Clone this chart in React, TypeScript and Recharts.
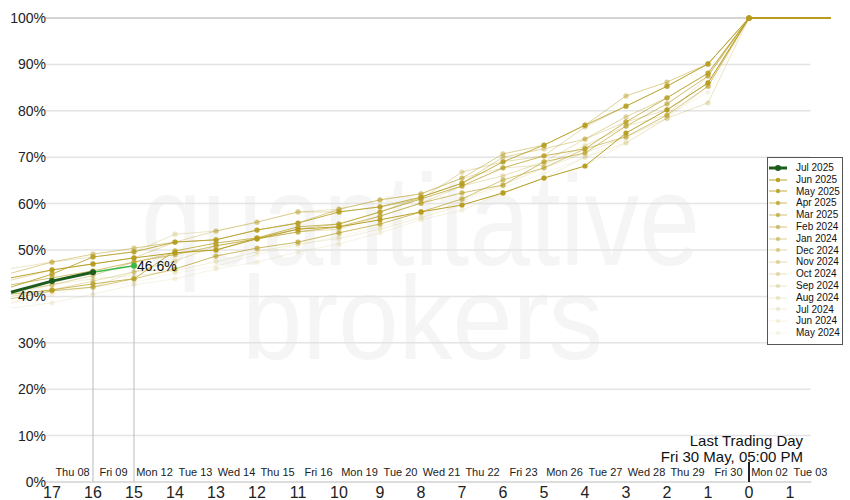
import { LineChart, Line, XAxis, YAxis, Legend, ReferenceLine, ReferenceDot } from "recharts";

const FONT = "'Liberation Sans', Arial, sans-serif";
const GOLD = "#b59c1f";
const DARK_GREEN = "#1d5c1d";
const LIVE_GREEN = "#3cb846";

// trading days before the last trading day (left to right), plus the two after it
const days = [18, 17, 16, 15, 14, 13, 12, 11, 10, 9, 8, 7, 6, 5, 4, 3, 2, 1, 0];
const afterDays = [-2];

const dayTicks = [17, 16, 15, 14, 13, 12, 11, 10, 9, 8, 7, 6, 5, 4, 3, 2, 1, 0, -1];
const dayLabels = [
  "Thu 08", "Fri 09", "Mon 12", "Tue 13", "Wed 14", "Thu 15", "Fri 16", "Mon 19", "Tue 20", "Wed 21",
  "Thu 22", "Fri 23", "Mon 26", "Tue 27", "Wed 28", "Thu 29", "Fri 30", "Mon 02", "Tue 03",
];
const yTicks = [0, 10, 20, 30, 40, 50, 60, 70, 80, 90, 100];

// cumulative % of the roll done, per past contract month (values for days 18..0)
const seriesNames = [
  "Jun 2025", "May 2025", "Apr 2025", "Mar 2025", "Feb 2024", "Jan 2024", "Dec 2024",
  "Nov 2024", "Oct 2024", "Sep 2024", "Aug 2024", "Jul 2024", "Jun 2024", "May 2024",
];
const seriesOpacity = [0.95, 0.82, 0.72, 0.64, 0.56, 0.48, 0.41, 0.35, 0.3, 0.25, 0.2, 0.16, 0.12, 0.09];

const jun2025 = [44.0, 45.7, 47.0, 48.3, 49.4, 50.0, 52.4, 54.5, 55.0, 56.5, 58.2, 59.7, 62.3, 65.5, 68.1, 75.2, 80.2, 86.0, 100];
const may2025 = [42.0, 44.8, 48.5, 49.6, 51.7, 52.2, 54.3, 55.8, 58.2, 59.3, 61.4, 64.4, 69.0, 72.6, 76.9, 81.0, 85.3, 90.1, 100];
const apr2025 = [40.5, 41.4, 42.7, 43.8, 49.8, 51.5, 52.6, 55.0, 55.6, 58.2, 61.0, 63.8, 67.7, 70.3, 71.8, 77.6, 82.8, 88.1, 100];
const mar2025 = [42.5, 44.0, 45.5, 47.4, 49.0, 50.9, 52.4, 53.9, 55.0, 57.3, 60.1, 62.3, 64.0, 69.0, 70.9, 76.7, 81.5, 87.5, 100];
const feb2024 = [39.5, 41.2, 42.0, 43.8, 45.9, 48.7, 50.4, 51.7, 53.7, 55.6, 58.2, 61.0, 65.1, 67.7, 71.8, 74.4, 79.1, 85.3, 100];
const jan2024 = [45.0, 47.4, 49.1, 50.4, 51.7, 52.2, 54.3, 55.8, 58.8, 60.8, 62.1, 65.5, 70.7, 72.6, 76.9, 83.2, 86.2, 90.1, 100];
const dec2024 = [41.0, 42.5, 44.5, 47.4, 49.4, 50.0, 52.6, 54.5, 55.6, 58.2, 61.4, 64.4, 70.0, 71.8, 73.9, 78.7, 82.8, 88.1, 100];
const nov2024 = [43.5, 45.7, 47.0, 48.3, 51.7, 54.1, 56.0, 58.2, 58.2, 59.3, 61.0, 66.8, 69.0, 70.3, 76.5, 81.0, 85.3, 90.1, 100];
const oct2024 = [40.0, 41.4, 43.3, 45.3, 47.6, 50.9, 52.4, 53.9, 54.5, 57.3, 60.1, 63.8, 66.0, 69.0, 73.9, 77.6, 80.2, 86.0, 100];
const sep2024 = [46.0, 47.4, 48.5, 49.6, 53.4, 54.1, 56.0, 58.2, 58.8, 60.8, 62.1, 65.5, 67.7, 68.3, 72.5, 76.7, 79.1, 87.5, 100];
const aug2024 = [38.5, 41.2, 42.0, 45.3, 45.9, 48.7, 50.4, 51.7, 53.7, 55.6, 58.2, 61.0, 64.0, 67.7, 70.9, 74.4, 78.4, 85.3, 100];
const jul2024 = [40.5, 42.5, 43.8, 44.5, 45.5, 47.5, 49.6, 51.3, 52.5, 54.5, 57.0, 59.7, 62.3, 65.5, 70.0, 73.1, 78.4, 81.7, 100];
const jun2024 = [37.5, 38.6, 40.5, 42.5, 43.8, 45.9, 47.4, 49.6, 51.3, 53.7, 56.5, 58.6, 62.3, 65.5, 68.1, 73.1, 78.4, 81.7, 100];
const may2024 = [39.0, 40.5, 42.0, 43.0, 45.0, 46.5, 49.0, 51.0, 53.0, 55.0, 57.5, 60.5, 63.5, 66.5, 70.0, 74.0, 79.0, 84.0, 100];
const history = [jun2025, may2025, apr2025, mar2025, feb2024, jan2024, dec2024, nov2024, oct2024, sep2024, aug2024, jul2024, jun2024, may2024];

// current contract (Jul 2025)
const julDoneDays = [18, 17, 16];
const julDone = [40.9, 43.3, 45.2];
const julLiveDays = [16, 15];
const julLive = [45.2, 46.6];

const data = [...days, ...afterDays].map((d, i) => {
  const row: any = { d };
  history.forEach((vals, k) => {
    row["s" + k] = i < days.length ? vals[i] : 100;
  });
  const di = julDoneDays.indexOf(d);
  if (di >= 0) row.julDone = julDone[di];
  const li = julLiveDays.indexOf(d);
  if (li >= 0) row.julLive = julLive[li];
  return row;
});

// integer ticks carry the day count, half ticks carry the date
const xTicks: number[] = [];
dayTicks.forEach((t) => {
  xTicks.push(t);
  xTicks.push(t - 0.5);
});

const labelForHalf = (v: number) => dayLabels[Math.round(16.5 - v)];

const XTick = (p: any) => {
  const v = p.payload.value;
  if (Number.isInteger(v)) {
    return (
      <text x={p.x} y={p.y + 8} textAnchor="middle" fontSize={16} fill="#222" fontFamily={FONT}>
        {Math.abs(v)}
      </text>
    );
  }
  return (
    <text x={p.x} y={p.y - 14} textAnchor="middle" fontSize={11} fill="#222" fontFamily={FONT}>
      {labelForHalf(v)}
    </text>
  );
};

const YTick = (p: any) => (
  <text x={46} y={p.y + 5} textAnchor="end" fontSize={14} fill="#222" fontFamily={FONT}>
    {p.payload.value}%
  </text>
);

const goldDot = (op: number) => (p: any) => {
  const d = p.payload?.d;
  if (d === undefined || d > 17 || d < 0 || p.cy == null) return <g key={`n-${p.index}`} />;
  return <circle key={`c-${p.index}`} cx={p.cx} cy={p.cy} r={2.6} fill={GOLD} fillOpacity={op} />;
};

const greenDot = (color: string, first: number) => (p: any) => {
  if (p.cy == null || p.payload?.d > first) return <g key={`n-${p.index}`} />;
  return <circle key={`g-${p.index}`} cx={p.cx} cy={p.cy} r={3} fill={color} />;
};

const LiveLabel = (p: any) => {
  if (p.value == null || p.value !== julLive[julLive.length - 1]) return <g />;
  return (
    <text x={p.x + 3} y={p.y + 5} fontSize={14} fill="#111" fontFamily={FONT}>
      {p.value.toFixed(1)}%
    </text>
  );
};

const legendRow = { display: "flex", alignItems: "center", height: 11.8, whiteSpace: "nowrap" as const };

const LegendBox = () => (
  <div
    style={{
      border: "1px solid #555",
      background: "#fff",
      padding: "4px 0 5px 1px",
      fontFamily: FONT,
      fontSize: 10,
      lineHeight: "11.8px",
      color: "#111",
      width: 73,
    }}
  >
    <div style={legendRow}>
      <svg width={18} height={8} style={{ flex: "none" }}>
        <line x1={0} y1={4} x2={18} y2={4} stroke={DARK_GREEN} strokeWidth={3} />
        <circle cx={9} cy={4} r={3} fill={DARK_GREEN} />
      </svg>
      <span style={{ marginLeft: 9 }}>Jul 2025</span>
    </div>
    {seriesNames.map((name, k) => (
      <div key={name} style={legendRow}>
        <svg width={18} height={8} style={{ flex: "none" }}>
          <line x1={0} y1={4} x2={18} y2={4} stroke={GOLD} strokeOpacity={seriesOpacity[k]} strokeWidth={1} />
          <circle cx={9} cy={4} r={2.2} fill={GOLD} fillOpacity={seriesOpacity[k]} />
        </svg>
        <span style={{ marginLeft: 9 }}>{name}</span>
      </div>
    ))}
  </div>
);

const LastDayLabel = (p: any) => {
  const vb = p.viewBox || {};
  return (
    <g fontFamily={FONT} fontSize={15} fill="#111">
      <text x={vb.x} y={vb.y - 16} textAnchor="end">Last Trading Day</text>
      <text x={vb.x} y={vb.y} textAnchor="end">Fri 30 May, 05:00 PM</text>
    </g>
  );
};

const gridValues = [10, 20, 30, 40, 50, 60, 70, 80, 90];

export default function App() {
  return (
    <div style={{ position: "relative", width: 850, height: 500 }}>
      <style>{"body{margin:0}"}</style>
      <svg width={850} height={500} style={{ position: "absolute", left: 0, top: 0 }}>
        <g fill="#f5f5f5" fontFamily={FONT}>
          <text x={141} y={265} fontSize={130} textLength={559} lengthAdjust="spacingAndGlyphs">quantitative</text>
          <text x={242} y={359} fontSize={118} textLength={361} lengthAdjust="spacingAndGlyphs">brokers</text>
        </g>
      </svg>
      <div style={{ position: "absolute", left: 0, top: 0 }}>
        <LineChart width={850} height={500} data={data} margin={{ top: 18, right: 19, bottom: 0, left: 11 }}>
          <XAxis
            type="number"
            dataKey="d"
            domain={[-2, 18]}
            reversed
            ticks={xTicks}
            interval={0}
            tick={<XTick />}
            axisLine={false}
            tickLine={false}
            height={18}
          />
          <YAxis
            domain={[0, 100]}
            ticks={yTicks}
            mirror
            width={40}
            interval={0}
            axisLine={false}
            tickLine={false}
            tick={<YTick />}
          />
          {gridValues.map((v) => (
            <ReferenceLine key={v} segment={[{ x: 17.17, y: v }, { x: -1.5, y: v }]} stroke="#e4e4e4" strokeWidth={1.5} />
          ))}
          <ReferenceLine segment={[{ x: 17.17, y: 100 }, { x: 0, y: 100 }]} stroke="#aaa" />
          <ReferenceLine segment={[{ x: 17.2, y: 0 }, { x: -1.52, y: 0 }]} stroke="#bbb" />
          <ReferenceLine segment={[{ x: julLiveDays[0], y: 0 }, { x: julLiveDays[0], y: julLive[0] }]} stroke="#bbb" />
          <ReferenceLine segment={[{ x: julLiveDays[1], y: 0 }, { x: julLiveDays[1], y: julLive[1] }]} stroke="#bbb" />
          <ReferenceLine segment={[{ x: 0, y: 0 }, { x: 0, y: 4.3 }]} stroke="#222" strokeWidth={2} />
          <ReferenceDot x={-1.32} y={4.3} r={0} fill="none" stroke="none" label={{ content: LastDayLabel }} />
          {history
            .map((_, k) => k)
            .reverse()
            .map((k) => (
              <Line
                key={k}
                type="linear"
                dataKey={"s" + k}
                stroke={GOLD}
                strokeOpacity={seriesOpacity[k]}
                strokeWidth={1}
                dot={goldDot(seriesOpacity[k])}
                activeDot={false}
                isAnimationActive={false}
              />
            ))}
          <Line
            type="linear"
            dataKey="julLive"
            stroke={LIVE_GREEN}
            strokeWidth={1.5}
            dot={greenDot(LIVE_GREEN, 15)}
            label={<LiveLabel />}
            activeDot={false}
            isAnimationActive={false}
          />
          <Line
            type="linear"
            dataKey="julDone"
            stroke={DARK_GREEN}
            strokeWidth={3}
            dot={greenDot(DARK_GREEN, 17)}
            activeDot={false}
            isAnimationActive={false}
          />
          <Legend
            layout="vertical"
            align="center"
            verticalAlign="middle"
            content={() => <LegendBox />}
            wrapperStyle={{ left: 767, top: 157, width: 76, height: "auto" }}
          />
        </LineChart>
      </div>
    </div>
  );
}
